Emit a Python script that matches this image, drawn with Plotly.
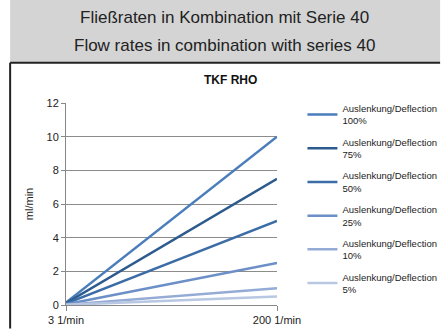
import plotly.graph_objects as go

# Flow rate data (ml/min) at the two pump speeds
speeds = ["3 1/min", "200 1/min"]
deflections = ["100%", "75%", "50%", "25%", "10%", "5%"]
flow_3 = [0.15, 0.11, 0.08, 0.04, 0.02, 0.01]
flow_200 = [10, 7.5, 5, 2.5, 1, 0.5]
colors = ["#4a7ebb", "#2d5b8e", "#3b6ca6", "#6b8fc6", "#94abd5", "#b8c8e2"]
y_ticks = [0, 2, 4, 6, 8, 10, 12]
header_lines = ["Fließraten in Kombination mit Serie 40",
                "Flow rates in combination with series 40"]

W, H = 441, 329
L, R, T, B = 66, 163.5, 103.3, 23.5
FONT = "Liberation Sans, Arial, sans-serif"

fig = go.Figure()
for i, (name, a, b, c) in enumerate(zip(deflections, flow_3, flow_200, colors)):
    fig.add_trace(go.Scatter(
        x=speeds, y=[a, b], mode="lines",
        name="Auslenkung/Deflection<br>" + name,
        legendgroup="g%d" % i,
        line=dict(color=c, width=2.5),
    ))

pw = W - L - R
ph = H - T - B


def px(x):
    return (x - L) / pw


def py(y):
    return (H - B - y) / ph


shapes = [
    dict(type="rect", xref="paper", yref="paper", x0=px(10), x1=px(441),
         y0=py(63), y1=py(0), fillcolor="#d4d4d4", line_width=0, layer="below"),
    dict(type="line", xref="paper", yref="paper", x0=px(10), x1=px(441),
         y0=py(63), y1=py(63), line=dict(color="#222", width=2)),
    dict(type="line", xref="paper", yref="paper", x0=px(10), x1=px(10),
         y0=py(63), y1=py(329), line=dict(color="#222", width=2)),
]

annotations = [
    dict(text=header_lines[0], xref="paper", yref="paper", x=px(225), y=py(18),
         xanchor="center", yanchor="middle", showarrow=False,
         font=dict(family=FONT, size=17, color="#222")),
    dict(text=header_lines[1], xref="paper", yref="paper", x=px(225), y=py(46),
         xanchor="center", yanchor="middle", showarrow=False,
         font=dict(family=FONT, size=17, color="#222")),
    dict(text="<b>TKF RHO</b>", xref="paper", yref="paper", x=px(231), y=py(80),
         xanchor="center", yanchor="middle", showarrow=False,
         font=dict(family=FONT, size=12, color="#111")),
]

fig.update_layout(
    width=W, height=H,
    margin=dict(l=L, r=R, t=T, b=B, pad=0, autoexpand=False),
    paper_bgcolor="white", plot_bgcolor="white",
    font=dict(family=FONT, size=10, color="#222"),
    shapes=shapes, annotations=annotations,
    showlegend=True,
    legend=dict(x=px(303), y=py(96), xanchor="left", yanchor="top",
                font=dict(family=FONT, size=9.5, color="#222"),
                itemwidth=30, tracegroupgap=6, maxheight=400,
                bgcolor="rgba(0,0,0,0)"),
    xaxis=dict(type="category", range=[0, 1], showgrid=False,
               showline=True, linecolor="#888", linewidth=1,
               ticks="outside", ticklen=5, tickcolor="#888",
               tickfont=dict(size=11), fixedrange=True),
    yaxis=dict(range=[0, 12], tickvals=y_ticks, showgrid=True,
               gridcolor="#8c8c8c", gridwidth=1, zeroline=False,
               showline=True, linecolor="#888", linewidth=1,
               ticks="outside", ticklen=4, tickcolor="#888",
               title=dict(text="ml/min", standoff=10, font=dict(size=11)),
               tickfont=dict(size=11)),
)

fig.write_html("out.html")
